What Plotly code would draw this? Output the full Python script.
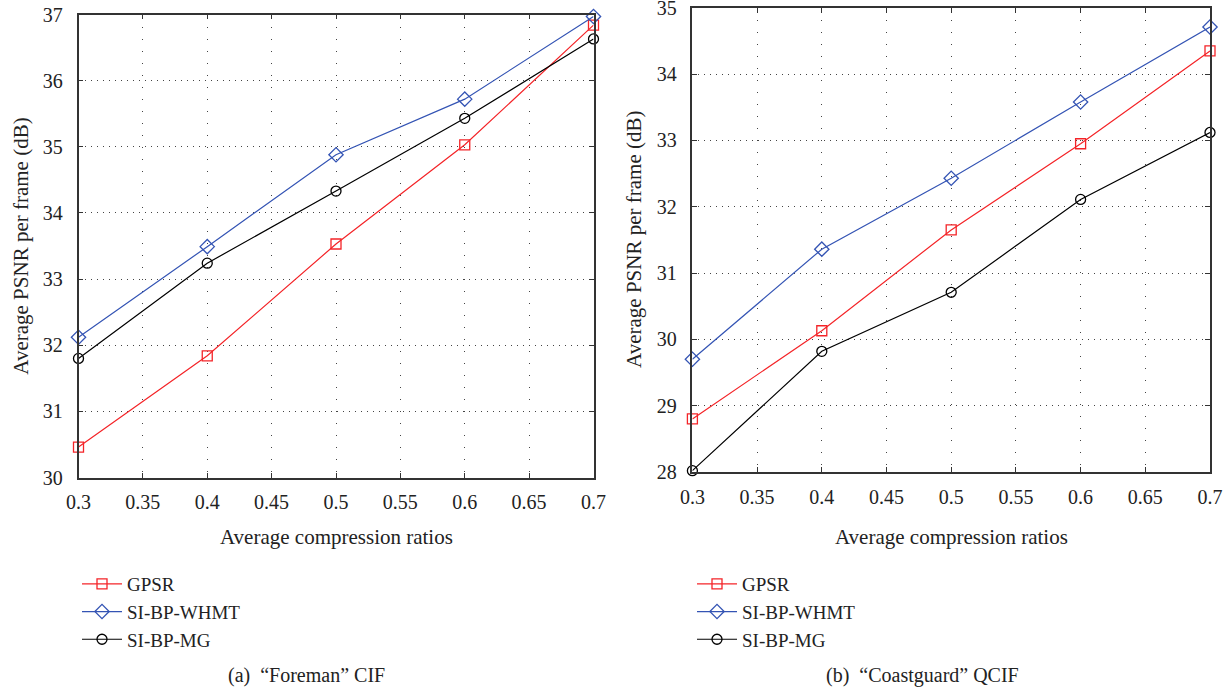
import plotly.graph_objects as go

# compression ratios shared by both panels
ratios = [0.3, 0.4, 0.5, 0.6, 0.7]

# (a) "Foreman" CIF
foreman_gpsr = [30.46, 31.84, 33.53, 35.03, 36.84]
foreman_whmt = [32.12, 33.49, 34.88, 35.72, 36.97]
foreman_mg = [31.80, 33.24, 34.33, 35.43, 36.63]

# (b) "Coastguard" QCIF
coast_gpsr = [28.80, 30.13, 31.65, 32.95, 34.35]
coast_whmt = [29.70, 31.36, 32.43, 33.58, 34.71]
coast_mg = [28.02, 29.82, 30.71, 32.11, 33.12]

series_names = ['GPSR', 'SI-BP-WHMT', 'SI-BP-MG']
captions = ['(a)\u00a0\u00a0\u201cForeman\u201d CIF', '(b)\u00a0\u00a0\u201cCoastguard\u201d QCIF']
x_title = 'Average compression ratios'
y_title = 'Average PSNR per frame (dB)'

W, H = 1231, 690
FONT = 'Liberation Serif'
TXT = '#222222'
colors = ['#f42428', '#3454b4', '#000000']
symbols = ['square-open', 'diamond-open', 'circle-open']
sizes = [10, 11, 10]


def px_x(p):
    return p / W


def px_y(p):
    return 1 - p / H


fig = go.Figure()

panels = [
    ([foreman_gpsr, foreman_whmt, foreman_mg], 'x', 'y', 'legend'),
    ([coast_gpsr, coast_whmt, coast_mg], 'x2', 'y2', 'legend2'),
]
for data, xa, ya, leg in panels:
    for name, vals, c, s, sz in zip(series_names, data, colors, symbols, sizes):
        fig.add_trace(go.Scatter(
            x=ratios, y=vals, name=name, mode='lines+markers',
            line=dict(color=c, width=1.2),
            marker=dict(symbol=s, size=sz, color=c, line=dict(width=1.3, color=c)),
            xaxis=xa, yaxis=ya, legend=leg, cliponaxis=False))

axis_common = dict(
    showline=True, linecolor='#333333', linewidth=1.5, mirror='ticks',
    ticks='inside', ticklen=5, tickcolor='#333333', tickwidth=1.3,
    showgrid=True, gridcolor='#444444', gridwidth=1, automargin=False,
    ticklabeloverflow='allow',
    zeroline=False, tickfont=dict(family=FONT, size=20, color=TXT),
)
xcommon = dict(axis_common, range=[0.3, 0.7], dtick=0.05, tick0=0.3,
               griddash='1px,11px', ticklabelstandoff=6)
ycommon = dict(axis_common, dtick=1, griddash='1px,5px', ticklabelstandoff=10)

# panel boxes in screen pixels: (left, right, top, bottom)
boxes = [(78.5, 593.5, 14.5, 477.5), (692.4, 1210, 7.8, 472)]

fig.update_layout(
    width=W, height=H,
    margin=dict(l=0, r=0, t=0, b=0, autoexpand=False),
    paper_bgcolor='white', plot_bgcolor='white',
    font=dict(family=FONT, color=TXT),
    xaxis=dict(xcommon, domain=[px_x(boxes[0][0]), px_x(boxes[0][1])], anchor='y'),
    yaxis=dict(ycommon, domain=[px_y(boxes[0][3]), px_y(boxes[0][2])], range=[30, 37], anchor='x'),
    xaxis2=dict(xcommon, domain=[px_x(boxes[1][0]), px_x(boxes[1][1])], anchor='y2'),
    yaxis2=dict(ycommon, domain=[px_y(boxes[1][3]), px_y(boxes[1][2])], range=[28, 35], anchor='x2'),
    legend=dict(x=px_x(77), y=px_y(565), xanchor='left', yanchor='top',
                font=dict(family=FONT, size=19, color=TXT),
                bgcolor='rgba(0,0,0,0)', tracegroupgap=0, itemwidth=40),
    legend2=dict(x=px_x(692), y=px_y(565), xanchor='left', yanchor='top',
                 font=dict(family=FONT, size=19, color=TXT),
                 bgcolor='rgba(0,0,0,0)', tracegroupgap=0, itemwidth=40),
)

title_font = dict(family=FONT, size=21, color=TXT)
for (l, r, t, b), ytx in zip(boxes, [20.7, 634]):
    fig.add_annotation(x=px_x((l + r) / 2), y=px_y(537), xref='paper', yref='paper',
                       text=x_title, showarrow=False, xanchor='center', yanchor='middle',
                       font=title_font)
    fig.add_annotation(x=px_x(ytx), y=px_y((t + b) / 2), xref='paper', yref='paper',
                       text=y_title, showarrow=False, textangle=-90,
                       xanchor='center', yanchor='middle', font=title_font)

for cx, text in zip([306.7, 922], captions):
    fig.add_annotation(x=px_x(cx), y=px_y(675), xref='paper', yref='paper',
                       text=text, showarrow=False, xanchor='center', yanchor='middle',
                       font=dict(family=FONT, size=20, color=TXT))

# drop the default 8px body margin so the figure fills the window exactly
fig.write_html('out.html', config={'displayModeBar': False},
               post_script="document.body.style.margin='0';")
